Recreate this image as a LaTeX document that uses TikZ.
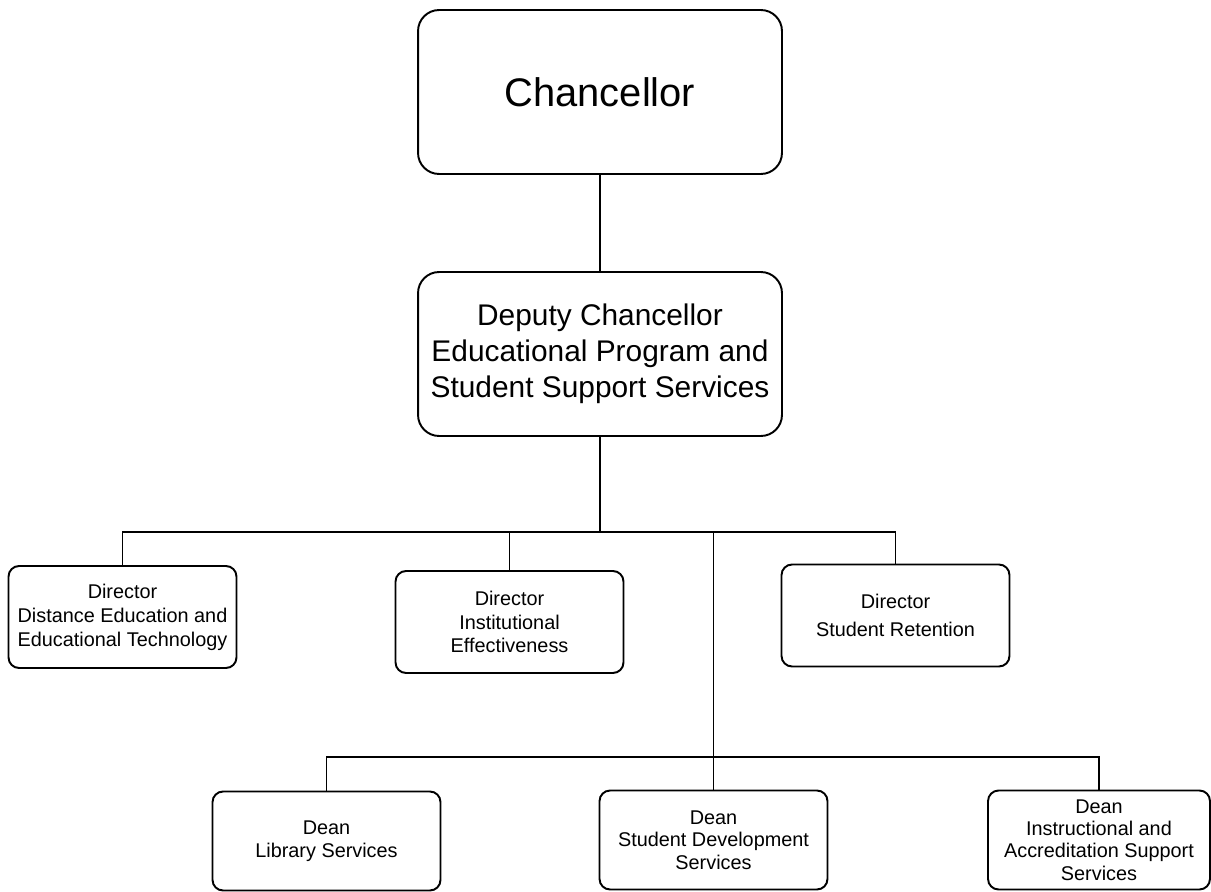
\documentclass[tikz,border=0pt]{standalone}
\usepackage{fontspec}
\setmainfont{Liberation Sans}
\usepackage{tikz}
\usetikzlibrary{positioning}

\begin{document}
\begin{tikzpicture}[x=0.02cm, y=-0.02cm,
    bigbox/.style={draw, line width=1.1pt, rounded corners=12pt, inner sep=0pt, align=center, minimum width=7.28cm, minimum height=3.28cm},
    smallbox/.style={draw, line width=1.1pt, rounded corners=6pt, inner sep=0pt, align=center, minimum width=4.56cm, minimum height=2.04cm, font=\fontsize{11.3}{13.6}\selectfont},
    deanbox/.style={smallbox, minimum height=1.98cm, font=\fontsize{11.3}{12.8}\selectfont},
    link/.style={line width=0.85pt}]
    % Frame
    \useasboundingbox (0,0) rectangle (1211,892);

    % Coordinates
    \coordinate (dirbus) at (600,532);
    \coordinate (deanbus) at (713,757);

    % Top boxes
    \node[bigbox, font=\fontsize{22.7}{27}\selectfont] (chancellor) at (600,92) {Chancellor};
    \node[bigbox, font=\fontsize{17}{20.4}\selectfont] (deputy) at (600,354) {Deputy Chancellor\\Educational Program and\\Student Support Services};

    % Directors
    \node[smallbox] (distance) at (122.5,617) {Director\\Distance Education and\\Educational Technology};
    \node[smallbox] (inst) at (509.5,622) {Director\\Institutional\\Effectiveness};
    \node[smallbox, font=\fontsize{11.3}{15.5}\selectfont] (retention) at (895.5,615.5) {Director\\Student Retention};

    % Deans
    \node[deanbox] (library) at (326.5,841) {Dean\\Library Services};
    \node[deanbox] (studdev) at (713.5,840) {Dean\\Student Development\\Services};
    \node[deanbox, minimum width=4.44cm] (instr) at (1099,840) {Dean\\Instructional and\\Accreditation Support\\Services};

    % Lines
    \draw[link] (chancellor.south) -- (deputy.north);
    \draw[link] (deputy.south) -- (dirbus);
    \draw[link] (distance.north) |- (dirbus) -| (retention.north);
    \draw[link] (inst.north) -- (inst.north |- dirbus);
    \draw[link] (dirbus -| studdev.north) -- (studdev.north);
    \draw[link] (library.north) |- (deanbus) -| (instr.north);
\end{tikzpicture}
\end{document}
